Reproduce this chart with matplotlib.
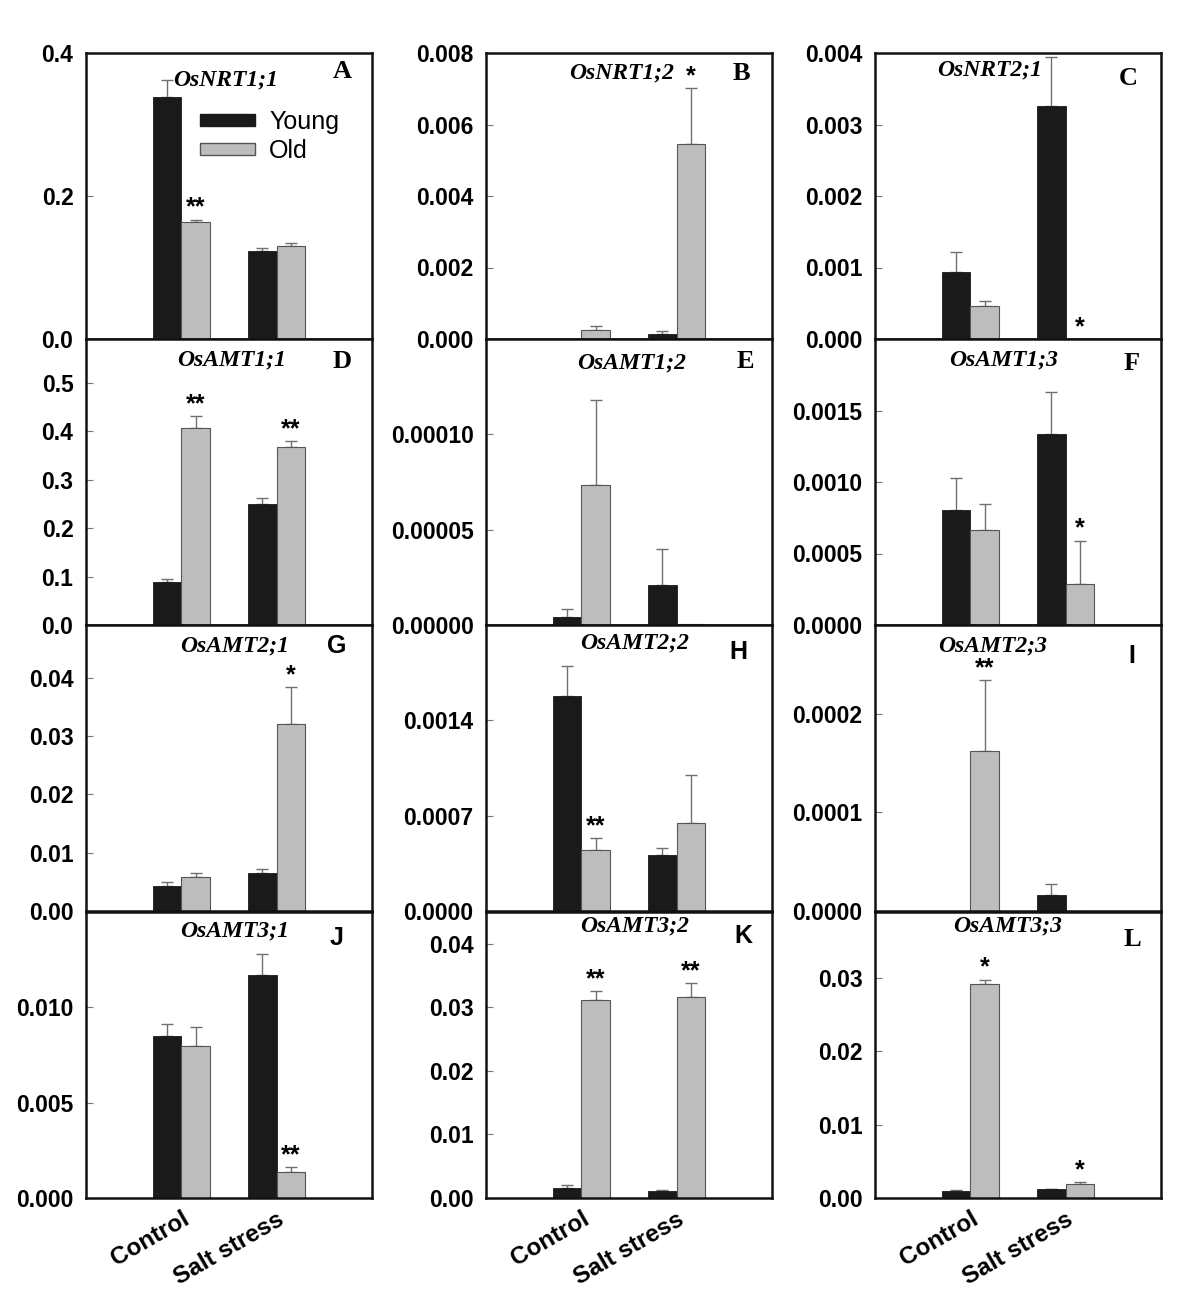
import numpy as np
import matplotlib
matplotlib.use('Agg')
import matplotlib.pyplot as plt
from matplotlib.patches import Patch

# Data (relative expression)
groups = ['Control', 'Salt stress']
genes = ['OsNRT1;1', 'OsNRT1;2', 'OsNRT2;1',
         'OsAMT1;1', 'OsAMT1;2', 'OsAMT1;3',
         'OsAMT2;1', 'OsAMT2;2', 'OsAMT2;3',
         'OsAMT3;1', 'OsAMT3;2', 'OsAMT3;3']
letters = ['A', 'B', 'C', 'D', 'E', 'F', 'G', 'H', 'I', 'J', 'K', 'L']

young = [[0.339, 0.1235], [0.0, 0.00014], [0.000933, 0.003254],
         [0.089, 0.249], [0.0000042, 0.0000208], [0.000805, 0.001338],
         [0.00429, 0.00658], [0.00158, 0.000412], [0.0, 0.0000158],
         [0.00848, 0.01172], [0.00163, 0.00116], [0.00102, 0.00124]]
young_err = [[0.023, 0.004], [0.0, 0.00009], [0.00029, 0.00069],
             [0.005, 0.013], [0.0000042, 0.000019], [0.00022, 0.00029],
             [0.0007, 0.0007], [0.00022, 0.00005], [0.0, 0.000012],
             [0.00066, 0.00106], [0.00047, 0.0001], [0.00005, 0.00005]]
old = [[0.163, 0.1305], [0.000243, 0.005446], [0.000462, 0.0],
       [0.407, 0.367], [0.0000733, 0.0000004], [0.000663, 0.00029],
       [0.00583, 0.0321], [0.00045, 0.000648], [0.000162, 0.0000005],
       [0.00799, 0.00136], [0.03115, 0.03166], [0.02916, 0.00193]]
old_err = [[0.004, 0.004], [0.00012, 0.00157], [0.000065, 0.0],
           [0.024, 0.012], [0.0000445, 0.0], [0.00018, 0.0003],
           [0.00075, 0.0062], [0.000083, 0.00035], [0.000072, 0.0],
           [0.00096, 0.00024], [0.0014, 0.0021], [0.0006, 0.0002]]
stars = [['**', ''], ['', '*'], ['', '*'],
         ['**', '**'], ['', ''], ['', '*'],
         ['', '*'], ['**', ''], ['**', ''],
         ['', '**'], ['**', '**'], ['*', '*']]

ymax = [0.4, 0.008, 0.004, 0.59, 0.00015, 0.002,
        0.049, 0.0021, 0.00029, 0.015, 0.045, 0.039]
yticks = [[0, 0.2, 0.4], [0, 0.002, 0.004, 0.006, 0.008], [0, 0.001, 0.002, 0.003, 0.004],
          [0, 0.1, 0.2, 0.3, 0.4, 0.5], [0, 0.00005, 0.0001], [0, 0.0005, 0.001, 0.0015],
          [0, 0.01, 0.02, 0.03, 0.04], [0, 0.0007, 0.0014], [0, 0.0001, 0.0002],
          [0, 0.005, 0.01], [0, 0.01, 0.02, 0.03, 0.04], [0, 0.01, 0.02, 0.03]]
ytick_labels = [['0.0', '0.2', '0.4'], ['0.000', '0.002', '0.004', '0.006', '0.008'],
                ['0.000', '0.001', '0.002', '0.003', '0.004'],
                ['0.0', '0.1', '0.2', '0.3', '0.4', '0.5'], ['0.00000', '0.00005', '0.00010'],
                ['0.0000', '0.0005', '0.0010', '0.0015'],
                ['0.00', '0.01', '0.02', '0.03', '0.04'], ['0.0000', '0.0007', '0.0014'],
                ['0.0000', '0.0001', '0.0002'],
                ['0.000', '0.005', '0.010'], ['0.00', '0.01', '0.02', '0.03', '0.04'],
                ['0.00', '0.01', '0.02', '0.03']]

# label placement (axes fraction)
gene_pos = [(0.49, 0.905), (0.475, 0.93), (0.40, 0.94), (0.51, 0.927), (0.51, 0.916), (0.45, 0.927),
            (0.52, 0.927), (0.52, 0.937), (0.41, 0.927), (0.52, 0.934), (0.52, 0.95), (0.465, 0.95)]
letter_pos = [(0.897, 0.935), (0.894, 0.93), (0.886, 0.91), (0.894, 0.92), (0.906, 0.92), (0.897, 0.916),
              (0.877, 0.925), (0.882, 0.907), (0.897, 0.89), (0.877, 0.91), (0.90, 0.916), (0.90, 0.905)]
serif_letter = [True, True, True, True, True, True, False, False, False, False, False, True]

young_color = '#1a1a1a'
old_color = '#bdbdbd'
sans = 'Liberation Sans'
serif = 'Liberation Serif'

fig = plt.figure(figsize=(12, 13.16), dpi=100)
lefts = [86 / 1200, 486 / 1200, 875 / 1200]
bottoms = [977 / 1316, 691 / 1316, 405 / 1316, 118 / 1316]
w_ax = 286 / 1200
h_ax = 286 / 1316

x = np.array([1, 2])
bw = 0.3

for i in range(12):
    r, c = divmod(i, 3)
    ax = fig.add_axes([lefts[c], bottoms[r], w_ax, h_ax])

    yv = np.array(young[i]); ye = np.array(young_err[i])
    ov = np.array(old[i]); oe = np.array(old_err[i])

    ax.bar(x - bw / 2, yv, bw, color=young_color, edgecolor=young_color, linewidth=0.6, zorder=2)
    ax.bar(x + bw / 2, ov, bw, color=old_color, edgecolor='#555555', linewidth=0.8, zorder=2)

    for xs, vals, errs in [(x - bw / 2, yv, ye), (x + bw / 2, ov, oe)]:
        m = errs > 0
        if m.any():
            ax.errorbar(xs[m], vals[m], yerr=[np.zeros(m.sum()), errs[m]], fmt='none',
                        ecolor='#707070', elinewidth=1.0, capsize=4, capthick=1.0, zorder=1)

    for j in range(2):
        if stars[i][j]:
            ax.annotate(stars[i][j], (x[j] + bw / 2, ov[j] + oe[j]), xytext=(0, 0),
                        textcoords='offset points', ha='center', va='bottom',
                        fontsize=18, fontweight='bold', fontfamily=sans)

    ax.set_xlim(0, 3)
    ax.set_ylim(0, ymax[i])
    ax.set_yticks(yticks[i])
    ax.set_yticklabels(ytick_labels[i], fontsize=16.5, fontweight='bold', fontfamily=sans)
    ax.tick_params(axis='y', direction='in', length=5, width=0.8, color='#777777', pad=9)
    if r == 3:
        ax.set_xticks(x)
        ax.set_xticklabels(groups, rotation=30, ha='right', va='top', rotation_mode='anchor',
                           fontsize=17.5, fontweight='bold', fontfamily=sans)
        ax.tick_params(axis='x', length=0, pad=7)
    else:
        ax.set_xticks([])
    for s in ax.spines.values():
        s.set_linewidth(1.8)
        s.set_color('#111111')

    gx, gy = gene_pos[i]
    ax.text(gx, gy, genes[i], transform=ax.transAxes, ha='center', va='center',
            fontfamily=serif, fontstyle='italic', fontweight='bold', fontsize=17)
    lx, ly = letter_pos[i]
    ax.text(lx, ly, letters[i], transform=ax.transAxes, ha='center', va='center',
            fontfamily=serif if serif_letter[i] else sans, fontweight='bold',
            fontsize=19 if serif_letter[i] else 18)

    if i == 0:
        handles = [Patch(facecolor=young_color, edgecolor=young_color, label='Young'),
                   Patch(facecolor=old_color, edgecolor='#555555', label='Old')]
        ax.legend(handles=handles, loc='upper left', bbox_to_anchor=(0.40, 0.80), frameon=False,
                  prop={'family': sans, 'size': 18}, handlelength=2.2, handleheight=0.35,
                  handletextpad=0.55, labelspacing=0.2, borderaxespad=0, borderpad=0)

fig.savefig('out.png', dpi=100)
